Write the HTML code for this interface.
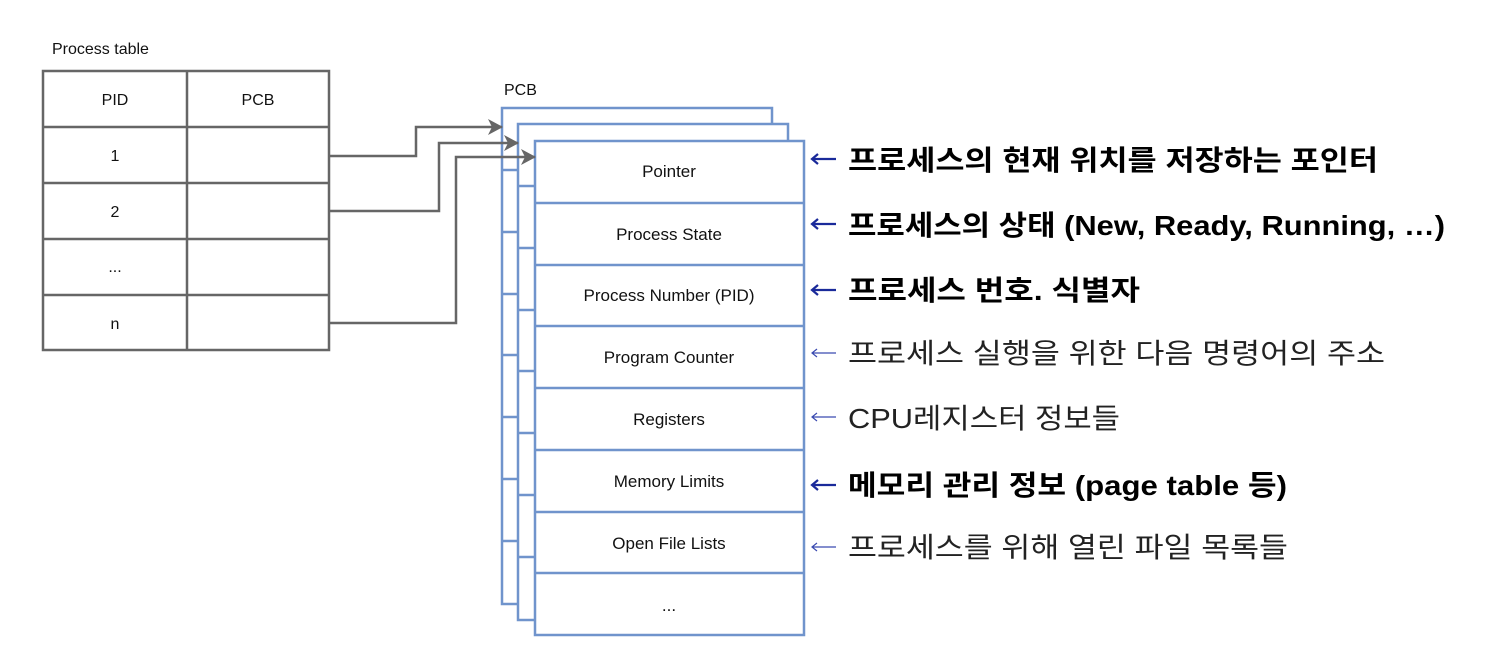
<!DOCTYPE html>
<html><head><meta charset="utf-8"><style>
html,body{margin:0;padding:0;background:#fff;}
svg{display:block;}
.k{font-family:"Liberation Sans","Noto Sans CJK KR",sans-serif;}
</style></head><body>
<svg width="1490" height="660" xmlns="http://www.w3.org/2000/svg">
<defs><marker id="ah" markerWidth="16" markerHeight="16" refX="14" refY="8" orient="auto" markerUnits="userSpaceOnUse"><path d="M0,0 L15,8 L0,16 L4,8 Z" fill="#666"/></marker></defs>
<g class="k" font-size="16" fill="#111">
<text x="52" y="54">Process table</text>
<text x="504" y="95">PCB</text>
</g>
<!-- process table -->
<g stroke="#666" stroke-width="2.5" fill="none">
<rect x="43" y="71" width="286" height="279"/>
<line x1="187" y1="71" x2="187" y2="350"/>
<line x1="43" y1="127" x2="329" y2="127"/>
<line x1="43" y1="183" x2="329" y2="183"/>
<line x1="43" y1="239" x2="329" y2="239"/>
<line x1="43" y1="295" x2="329" y2="295"/>
</g>
<g class="k" font-size="16" fill="#111" text-anchor="middle">
<text x="115" y="105">PID</text><text x="258" y="105">PCB</text>
<text x="115" y="161">1</text><text x="115" y="217">2</text>
<text x="115" y="272">...</text><text x="115" y="329">n</text>
</g>
<!-- PCB stacks -->
<g stroke="#7094cc" stroke-width="2.5" fill="#fff">
<rect x="502" y="108" width="270" height="496"/>
<rect x="518" y="124" width="270" height="496"/>
<rect x="535" y="141" width="269" height="494"/>
</g>
<g stroke="#7094cc" stroke-width="2.5">
<line x1="502" y1="170" x2="518" y2="170"/><line x1="502" y1="232" x2="518" y2="232"/><line x1="502" y1="294" x2="518" y2="294"/><line x1="502" y1="355" x2="518" y2="355"/><line x1="502" y1="417" x2="518" y2="417"/><line x1="502" y1="479" x2="518" y2="479"/><line x1="502" y1="541" x2="518" y2="541"/>
<line x1="518" y1="186" x2="535" y2="186"/><line x1="518" y1="248" x2="535" y2="248"/><line x1="518" y1="310" x2="535" y2="310"/><line x1="518" y1="371" x2="535" y2="371"/><line x1="518" y1="433" x2="535" y2="433"/><line x1="518" y1="495" x2="535" y2="495"/><line x1="518" y1="557" x2="535" y2="557"/>
<line x1="535" y1="203" x2="804" y2="203"/><line x1="535" y1="265" x2="804" y2="265"/><line x1="535" y1="326" x2="804" y2="326"/><line x1="535" y1="388" x2="804" y2="388"/><line x1="535" y1="450" x2="804" y2="450"/><line x1="535" y1="512" x2="804" y2="512"/><line x1="535" y1="573" x2="804" y2="573"/>
</g>
<!-- arrows -->
<g stroke="#666" stroke-width="2.5" fill="none">
<polyline points="329,156 416,156 416,127 502,127" marker-end="url(#ah)"/>
<polyline points="329,211 439,211 439,143 518,143" marker-end="url(#ah)"/>
<polyline points="329,323 456,323 456,157 535,157" marker-end="url(#ah)"/>
</g>
<g class="k" font-size="17" fill="#111" text-anchor="middle">
<text x="669" y="177">Pointer</text>
<text x="669" y="240">Process State</text>
<text x="669" y="301">Process Number (PID)</text>
<text x="669" y="363">Program Counter</text>
<text x="669" y="425">Registers</text>
<text x="669" y="487">Memory Limits</text>
<text x="669" y="549">Open File Lists</text>
<text x="669" y="611">...</text>
</g>
<!-- annotation arrows -->
<g fill="none" stroke="#1a2a9a">
<g stroke-width="2.2">
<path d="M812,159 H836 M818,154 L812,159 L818,164"/>
<path d="M812,224 H836 M818,219 L812,224 L818,229"/>
<path d="M812,290 H836 M818,285 L812,290 L818,295"/>
<path d="M812,485 H836 M818,480 L812,485 L818,490"/>
</g>
<g stroke-width="1.2" stroke="#3a4ab0">
<path d="M812,353 H836 M817,349 L812,353 L817,357"/>
<path d="M812,417 H836 M817,413 L812,417 L817,421"/>
<path d="M812,547 H836 M817,543 L812,547 L817,551"/>
</g>
</g>
<g class="k" font-size="28" fill="#000">
<text x="848" y="170" font-weight="bold" textLength="530" lengthAdjust="spacingAndGlyphs">프로세스의 현재 위치를 저장하는 포인터</text>
<text x="848" y="235" font-weight="bold" textLength="597" lengthAdjust="spacingAndGlyphs">프로세스의 상태 (New, Ready, Running, …)</text>
<text x="848" y="300" font-weight="bold" textLength="292" lengthAdjust="spacingAndGlyphs">프로세스 번호. 식별자</text>
<text x="848" y="363" fill="#222" textLength="537" lengthAdjust="spacingAndGlyphs">프로세스 실행을 위한 다음 명령어의 주소</text>
<text x="848" y="428" fill="#222" textLength="272" lengthAdjust="spacingAndGlyphs">CPU레지스터 정보들</text>
<text x="848" y="495" font-weight="bold" textLength="439" lengthAdjust="spacingAndGlyphs">메모리 관리 정보 (page table 등)</text>
<text x="848" y="557" fill="#222" textLength="440" lengthAdjust="spacingAndGlyphs">프로세스를 위해 열린 파일 목록들</text>
</g>
</svg>
</body></html>
